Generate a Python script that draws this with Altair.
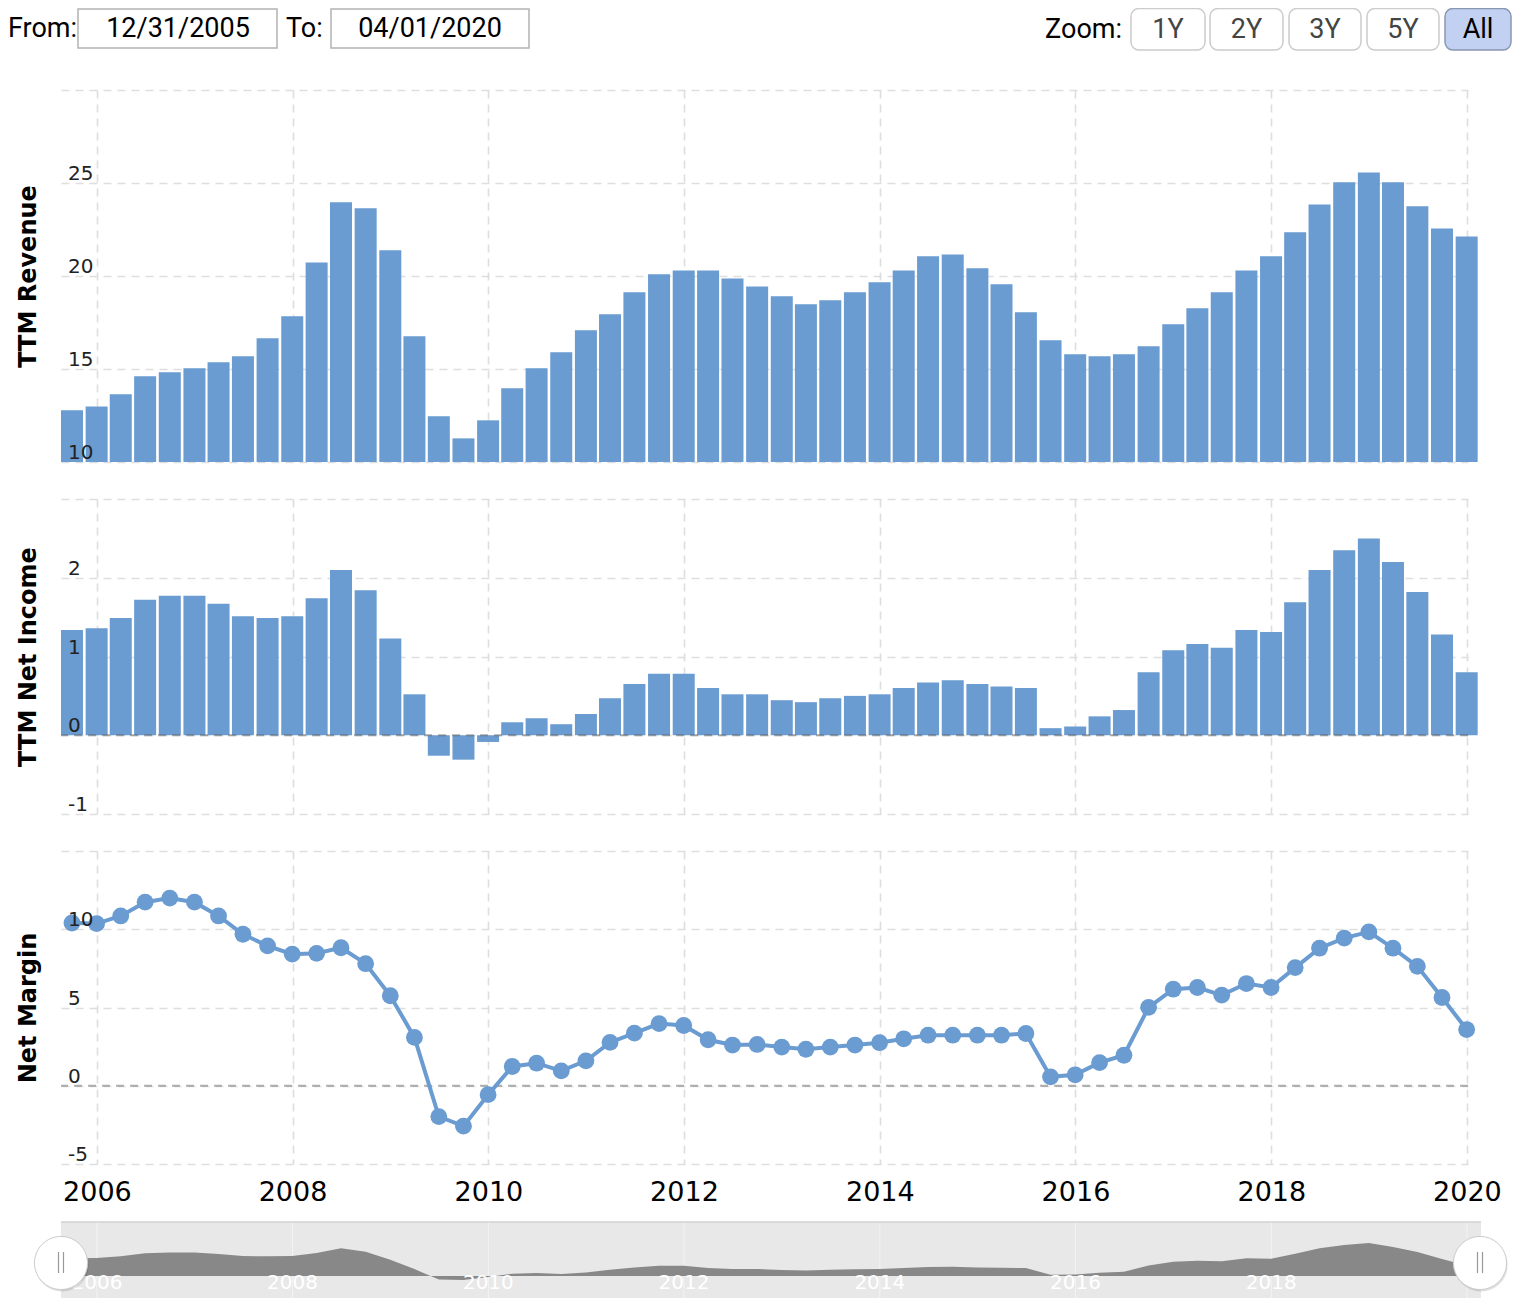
import altair as alt
import pandas as pd

# ---------------- data ----------------
quarters = []
for yr in range(2005, 2020):
    for md in ["03-31", "06-30", "09-30", "12-31"]:
        quarters.append(f"{yr}-{md}")
quarters = quarters[2:]  # 2005-09-30 .. 2019-12-31

revenue = [12.78, 12.99, 13.64, 14.61, 14.82, 15.04, 15.36, 15.68, 16.65, 17.83,
           20.73, 23.96, 23.64, 21.38, 16.76, 12.46, 11.27, 12.24, 13.96, 15.04,
           15.90, 17.08, 17.94, 19.12, 20.09, 20.30, 20.30, 19.87, 19.44, 18.91,
           18.48, 18.69, 19.12, 19.66, 20.30, 21.06, 21.16, 20.41, 19.55, 18.05,
           16.54, 15.79, 15.68, 15.79, 16.22, 17.40, 18.26, 19.12, 20.30, 21.06,
           22.35, 23.85, 25.04, 25.57, 25.04, 23.75, 22.56, 22.13]

net_income = [1.335, 1.36, 1.49, 1.72, 1.77, 1.77, 1.67, 1.51, 1.49, 1.51,
              1.74, 2.10, 1.84, 1.23, 0.52, -0.26, -0.31, -0.085, 0.165, 0.216,
              0.14, 0.27, 0.47, 0.65, 0.78, 0.78, 0.60, 0.52, 0.52, 0.445,
              0.42, 0.47, 0.50, 0.52, 0.60, 0.67, 0.70, 0.65, 0.62, 0.60,
              0.09, 0.11, 0.24, 0.32, 0.80, 1.08, 1.16, 1.11, 1.335, 1.31,
              1.69, 2.10, 2.35, 2.50, 2.20, 1.82, 1.28, 0.80]

net_margin = [10.40, 10.36, 10.85, 11.73, 11.99, 11.73, 10.85, 9.68, 8.94, 8.41,
              8.46, 8.82, 7.80, 5.75, 3.09, -1.97, -2.58, -0.57, 1.23, 1.44,
              0.95, 1.59, 2.77, 3.36, 3.97, 3.85, 2.94, 2.60, 2.64, 2.47,
              2.33, 2.47, 2.60, 2.75, 3.00, 3.23, 3.23, 3.23, 3.23, 3.34,
              0.57, 0.70, 1.48, 1.95, 5.01, 6.17, 6.28, 5.79, 6.53, 6.28,
              7.55, 8.79, 9.43, 9.83, 8.79, 7.63, 5.64, 3.59]

rev_ticks = [10, 15, 20, 25]
rev_tick_labels = ["10", "15", "20", "25"]
ni_ticks = [-1, 0, 1, 2]
ni_tick_labels = ["-1", "0", "1", "2"]
nm_ticks = [-5, 0, 5, 10]
nm_tick_labels = ["-5", "0", "5", "10"]
year_labels = ["2006", "2008", "2010", "2012", "2014", "2016", "2018", "2020"]
nav_year_labels = ["2006", "2008", "2010", "2012", "2014", "2016", "2018"]
zoom_buttons = ["1Y", "2Y", "3Y", "5Y", "All"]
from_date = "12/31/2005"
to_date = "04/01/2020"

df = pd.DataFrame({"date": quarters, "revenue": revenue,
                   "net_income": net_income, "margin": net_margin})
years_df = pd.DataFrame({"d": [f"{y}-01-01" for y in year_labels], "label": year_labels})
nav_years_df = pd.DataFrame({"d": [f"{y}-01-01" for y in nav_year_labels],
                             "label": nav_year_labels})
one = pd.DataFrame({"k": [0]})

# ---------------- style ----------------
BLUE = "#6a9bd1"
GRID = "#dedede"
W = 1407
AXFONT = "DejaVu Sans"
x_dom = [alt.DateTime(year=2005, month=8, date=20, utc=True),
         alt.DateTime(year=2020, month=1, date=5, utc=True)]
year_ticks = [alt.DateTime(year=int(y), month=1, date=1, utc=True) for y in year_labels]


def xaxis(labels):
    return alt.Axis(values=year_ticks, grid=True, gridDash=[8, 6],
                    gridColor=GRID, gridWidth=1.6, labels=labels,
                    ticks=False, domain=False, title=None, format="%Y",
                    formatType="utc", labelFont=AXFONT, labelFontSize=27,
                    labelColor="#000", labelPadding=15, labelFlush=False,
                    labelOverlap=False)


def xenc(labels=False):
    return alt.X("date:T", scale=alt.Scale(type="utc", domain=x_dom, padding=0),
                 axis=xaxis(labels))


def yscale(dom):
    return alt.Scale(domain=dom, zero=False, nice=False, padding=0)


def yaxis(vals, title, h):
    return alt.Axis(values=vals, grid=True, gridDash=[8, 6], gridColor=GRID,
                    gridWidth=1.6, labels=False, ticks=False, domain=False,
                    title=title, titleX=-33, titleY=h / 2, titleAngle=270,
                    titleAlign="center", titleBaseline="middle",
                    titleFont=AXFONT, titleFontSize=24,
                    titleFontWeight="bold", titleColor="#000")


def tick_text(vals, labels, dom, ax):
    d = pd.DataFrame({"v": vals, "t": labels})
    return alt.Chart(d).mark_text(align="left", baseline="alphabetic", dy=-3,
                                  font=AXFONT, fontSize=20, color="#222").encode(
        x=alt.value(7),
        y=alt.Y("v:Q", scale=yscale(dom), axis=ax),
        text="t:N")


def zero_rule(dom, ax):
    return alt.Chart(one).mark_rule(color="#555555", strokeDash=[8, 6],
                                    strokeWidth=2, opacity=0.45).encode(
        y=alt.Y(datum=0, scale=yscale(dom), axis=ax))


# ---------------- panel 1: revenue ----------------
H1, H2, H3 = 372, 315, 313
dom1 = [10, 30]
ax1 = yaxis([10, 15, 20, 25, 30], "TTM Revenue", H1)
p1 = alt.layer(
    alt.Chart(df).mark_bar(color=BLUE, size=22).encode(
        x=xenc(), y=alt.Y("revenue:Q", scale=yscale(dom1), axis=ax1),
        y2=alt.datum(10)),
    tick_text(rev_ticks, rev_tick_labels, dom1, ax1),
).properties(width=W, height=H1)

# ---------------- panel 2: net income ----------------
dom2 = [-1, 3]
ax2 = yaxis([-1, 0, 1, 2, 3], "TTM Net Income", H2)
p2 = alt.layer(
    alt.Chart(df).mark_bar(color=BLUE, size=22).encode(
        x=xenc(), y=alt.Y("net_income:Q", scale=yscale(dom2), axis=ax2),
        y2=alt.datum(0)),
    zero_rule(dom2, ax2),
    tick_text(ni_ticks, ni_tick_labels, dom2, ax2),
).properties(width=W, height=H2)

# ---------------- panel 3: net margin ----------------
dom3 = [-5, 15]
ax3 = yaxis([-5, 0, 5, 10, 15], "Net Margin", H3)
p3 = alt.layer(
    zero_rule(dom3, ax3),
    alt.Chart(df).mark_line(color=BLUE, strokeWidth=4).encode(
        x=xenc(labels=True), y=alt.Y("margin:Q", scale=yscale(dom3), axis=ax3)),
    alt.Chart(df).mark_circle(color=BLUE, size=283, opacity=1).encode(
        x=xenc(labels=True), y=alt.Y("margin:Q", scale=yscale(dom3), axis=ax3)),
    tick_text(nm_ticks, nm_tick_labels, dom3, ax3),
).properties(width=W, height=H3)

# ---------------- navigator ----------------
nav_x = alt.Scale(type="utc", domain=x_dom, padding=0)
nav_y = yscale([-1.67, 5.68])
HS = 2827
nav = alt.layer(
    alt.Chart(one).mark_rect(color="#e8e8e8").encode(
        x=alt.value(0), x2=alt.value(1420), y=alt.value(21), y2=alt.value(97)),
    alt.Chart(years_df).mark_rule(color="#f3f3f3", strokeWidth=1).encode(
        x=alt.X("d:T", scale=nav_x, axis=None), y=alt.value(21), y2=alt.value(97)),
    alt.Chart(df).mark_area(color="#888888", opacity=1).encode(
        x=alt.X("date:T", scale=nav_x, axis=None),
        y=alt.Y("net_income:Q", scale=nav_y, axis=None), y2=alt.datum(0)),
    alt.Chart(nav_years_df).mark_text(color="white", font=AXFONT, fontSize=20,
                                      baseline="middle").encode(
        x=alt.X("d:T", scale=nav_x, axis=None), y=alt.value(82), text="label:N"),
    alt.Chart(one).mark_rule(color="#d2d2d2", strokeWidth=1.5).encode(
        x=alt.value(0), x2=alt.value(1420), y=alt.value(21)),
    # handles
    alt.Chart(one).mark_point(shape="circle", filled=True, color="#000", opacity=0.12,
                              size=HS).encode(x=alt.value(1), y=alt.value(64)),
    alt.Chart(one).mark_point(shape="circle", filled=True, color="#000", opacity=0.12,
                              size=HS).encode(x=alt.value(1420), y=alt.value(64)),
    alt.Chart(one).mark_point(shape="circle", filled=True, fill="white", stroke="#cccccc",
                              strokeWidth=1, opacity=1, size=HS).encode(
        x=alt.value(0), y=alt.value(62)),
    alt.Chart(one).mark_point(shape="circle", filled=True, fill="white", stroke="#cccccc",
                              strokeWidth=1, opacity=1, size=HS).encode(
        x=alt.value(1419), y=alt.value(62)),
    *[alt.Chart(one).mark_rule(color="#999999", strokeWidth=1.2).encode(
        x=alt.value(gx), y=alt.value(51), y2=alt.value(72))
      for gx in [-2.5, 2.5, 1416.5, 1421.5]],
).properties(width=W, height=97)

# ---------------- header (UI controls) ----------------
OX = 61
HF = "Roboto"
hdr_layers = [
    alt.Chart(one).mark_rule(strokeOpacity=0).encode(
        x=alt.value(-OX), y=alt.value(20), y2=alt.value(21)),
    alt.Chart(one).mark_text(text="From:", align="left", baseline="alphabetic",
                             font=HF, fontSize=27, color="#000").encode(
        x=alt.value(8 - OX), y=alt.value(37)),
    alt.Chart(one).mark_rect(fill="white", stroke="#b3b3b3", strokeWidth=1.5).encode(
        x=alt.value(78 - OX), x2=alt.value(277 - OX), y=alt.value(9), y2=alt.value(48)),
    alt.Chart(one).mark_text(text=from_date, align="center", baseline="alphabetic",
                             font=HF, fontSize=27, color="#000").encode(
        x=alt.value(178 - OX), y=alt.value(37)),
    alt.Chart(one).mark_text(text="To:", align="left", baseline="alphabetic",
                             font=HF, fontSize=27, color="#000").encode(
        x=alt.value(286 - OX), y=alt.value(37)),
    alt.Chart(one).mark_rect(fill="white", stroke="#b3b3b3", strokeWidth=1.5).encode(
        x=alt.value(331 - OX), x2=alt.value(529 - OX), y=alt.value(9), y2=alt.value(48)),
    alt.Chart(one).mark_text(text=to_date, align="center", baseline="alphabetic",
                             font=HF, fontSize=27, color="#000").encode(
        x=alt.value(430 - OX), y=alt.value(37)),
    alt.Chart(one).mark_text(text="Zoom:", align="right", baseline="alphabetic",
                             font=HF, fontSize=27, color="#000").encode(
        x=alt.value(1122 - OX), y=alt.value(38)),
]
btn_x = [(1131, 1205), (1210, 1283), (1289, 1361), (1367, 1439), (1445, 1511)]
for lab, (a, b) in zip(zoom_buttons, btn_x):
    active = lab == "All"
    hdr_layers.append(
        alt.Chart(one).mark_rect(fill="#c2d0f1" if active else "white",
                                 stroke="#8a97b3" if active else "#cccccc",
                                 strokeWidth=1.5, cornerRadius=8).encode(
            x=alt.value(a - OX), x2=alt.value(b - OX), y=alt.value(8.5), y2=alt.value(50)))
    hdr_layers.append(
        alt.Chart(one).mark_text(text=lab, align="center", baseline="alphabetic",
                                 font=HF, fontSize=27,
                                 color="#000" if active else "#444444").encode(
            x=alt.value((a + b) / 2 - OX), y=alt.value(38)))
header = alt.layer(*hdr_layers).properties(width=W, height=53)

chart = alt.vconcat(header, p1, p2, p3, nav, spacing=37, bounds="flush").properties(
    padding={"left": -8, "top": -8, "right": 0, "bottom": 0}
).configure_view(stroke=None)

chart.save("out.html", embed_options={"renderer": "svg", "actions": False})
